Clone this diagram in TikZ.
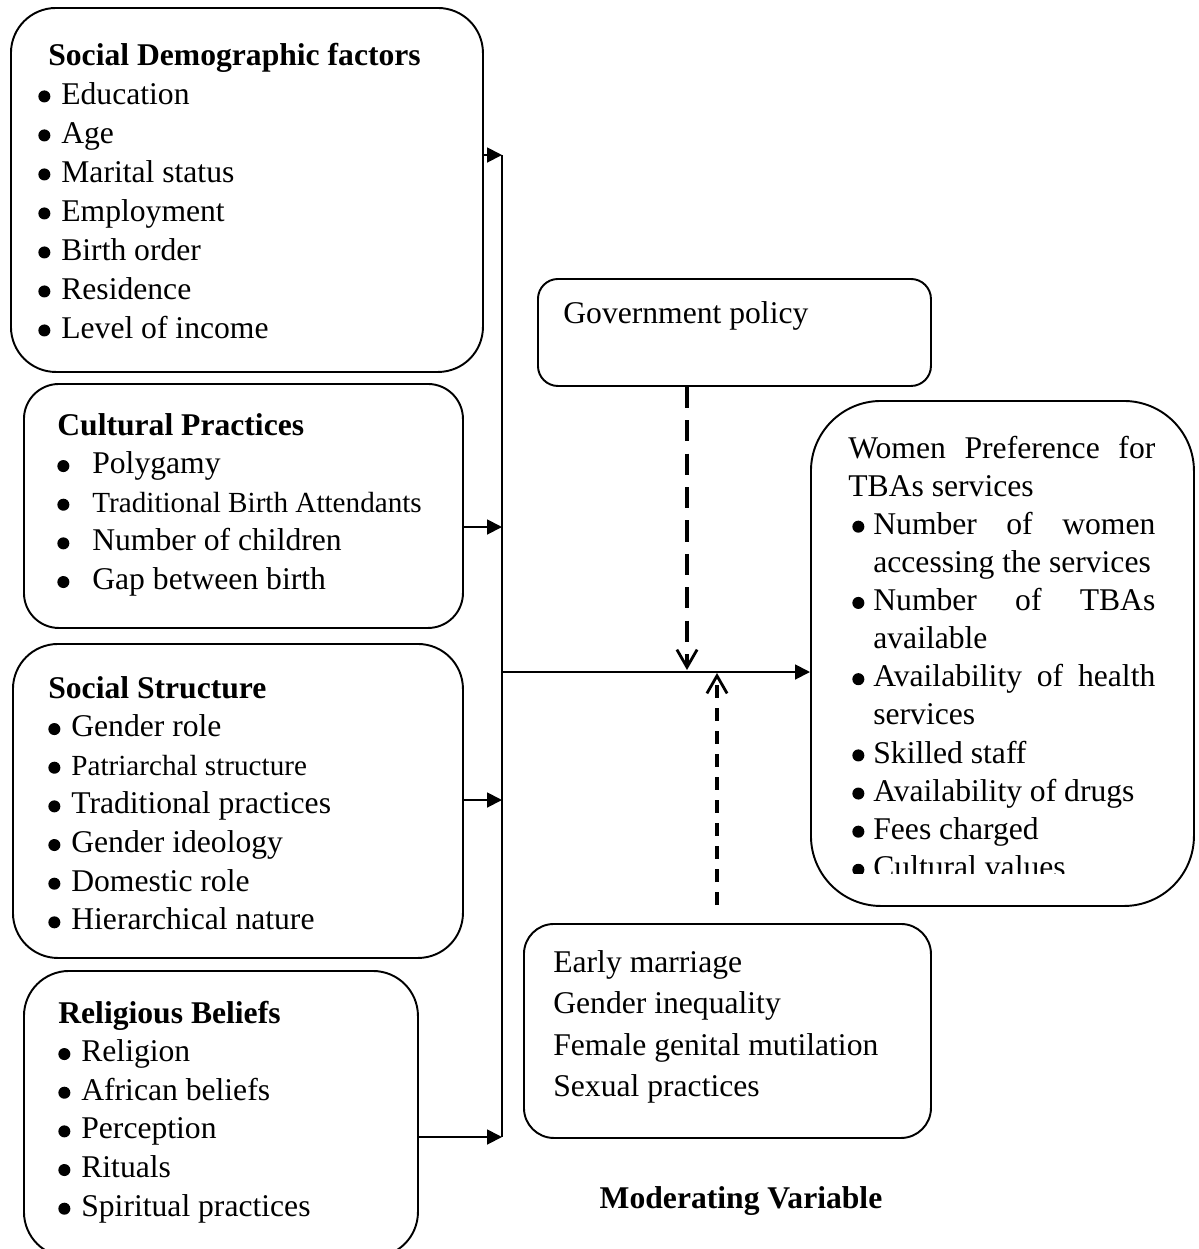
\documentclass[tikz,border=0pt]{standalone}
\usepackage{fontspec}
\setmainfont{Liberation Serif}
\usetikzlibrary{arrows.meta,positioning}
\newlength{\pxl}\setlength{\pxl}{0.02cm}
% bullet item and stretched line
\newcommand{\dotb}{\tikz[baseline=0pt]\fill (0.19em,0.24em) circle (0.19em);}
\newcommand{\itm}[2][23]{\makebox[#1\pxl][l]{\dotb}#2}
\newcommand{\jst}[2]{\makebox[#1\pxl][s]{#2}}

\begin{document}
\begin{tikzpicture}[x=0.02cm, y=-0.02cm,
     % define styles
     card/.style={
         draw, line width=1.1pt,
         rounded corners=#1,
         inner sep=0pt,
         anchor=north west
     },
     card/.default=0.9cm,
     txt/.style={
         inner sep=0pt,
         anchor=base west,
         font=\fontsize{18}{22}\selectfont
     },
     arr/.style={line width=1.1pt, -{Triangle[length=8.5pt,width=8.5pt]}},
     dsh/.style={line width=1.9pt, dash pattern=on #1,
         -{Straight Barb[length=10pt,width=11.5pt,line width=1.6pt]}},
     dsh/.default={12pt off 7pt}
]
\useasboundingbox (0,0) rectangle (1199,1249);

% left boxes
\node[card, minimum width=472\pxl, minimum height=364\pxl] (sd) at (10,7) {};
\node[card=0.7cm, minimum width=439\pxl, minimum height=244\pxl] (cp) at (23,383) {};
\node[card, minimum width=450\pxl, minimum height=314\pxl] (ss) at (12,643) {};
\node[card, minimum width=394\pxl, minimum height=286\pxl] (rb) at (23,970) {};

% right boxes
\node[card=0.4cm, minimum width=393\pxl, minimum height=107\pxl] (gp) at (537,278) {};
\node[card=0.6cm, minimum width=407\pxl, minimum height=214\pxl] (mb) at (523,923) {};
\node[card=1.4cm, minimum width=383\pxl, minimum height=505\pxl] (wp) at (810,400) {};

% texts
\node[txt, font=\fontsize{18}{22.2}\selectfont] (sdt) at (38,65) {\parbox[t]{8cm}{%
\hspace*{10\pxl}\textbf{Social Demographic factors}\\
\itm{Education}\\
\itm{Age}\\
\itm{Marital status}\\
\itm{Employment}\\
\itm{Birth order}\\
\itm{Residence}\\
\itm{Level of income}}};

\node[txt] (cpt) at (57,435) {\parbox[t]{8cm}{%
\textbf{Cultural Practices}\\
\itm[35]{Polygamy}\\
\itm[35]{{\fontsize{16.6}{22}\selectfont Traditional Birth Attendants}}\\
\itm[35]{Number of children}\\
\itm[35]{Gap between birth}}};

\node[txt] (sst) at (48,698) {\parbox[t]{8cm}{%
\textbf{Social Structure}\\
\itm{Gender role}\\
\itm{{\fontsize{16.6}{22}\selectfont Patriarchal structure}}\\
\itm{Traditional practices}\\
\itm{Gender ideology}\\
\itm{Domestic role}\\
\itm{Hierarchical nature}}};

\node[txt] (rbt) at (58,1023) {\parbox[t]{8cm}{%
\textbf{Religious Beliefs}\\
\itm{Religion}\\
\itm{African beliefs}\\
\itm{Perception}\\
\itm{Rituals}\\
\itm{Spiritual practices}}};

\node[txt] (gpt) at (563,323) {Government policy};

\node[txt, font=\fontsize{18}{23.7}\selectfont] (mbt) at (553,972) {\parbox[t]{8cm}{%
Early marriage\\
Gender inequality\\
Female genital mutilation\\
Sexual practices}};

\begin{scope}
\clip (810,400) rectangle (1199,873);
\node[txt, font=\fontsize{18}{21.7}\selectfont] (wpt) at (848,458) {\parbox[t]{6.5cm}{%
\jst{307}{Women Preference for}\\
TBAs services\\
\hspace*{4\pxl}\itm[21]{\jst{282}{Number of women}}\\
\hspace*{25\pxl}accessing the services\\
\hspace*{4\pxl}\itm[21]{\jst{282}{Number of TBAs}}\\
\hspace*{25\pxl}available\\
\hspace*{4\pxl}\itm[21]{\jst{282}{Availability of health}}\\
\hspace*{25\pxl}services\\
\hspace*{4\pxl}\itm[21]{Skilled staff}\\
\hspace*{4\pxl}\itm[21]{Availability of drugs}\\
\hspace*{4\pxl}\itm[21]{Fees charged}\\
\hspace*{4\pxl}\itm[21]{Cultural values}}};
\end{scope}

\node[anchor=base, inner sep=0pt, font=\fontsize{18}{22}\selectfont\bfseries] (mvl) at (741,1208) {Moderating Variable};

% trunk
\coordinate (j1) at (502,155);
\coordinate (j2) at (502,527);
\coordinate (j3) at (502,800);
\coordinate (j4) at (502,1137);
\coordinate (hub) at (502,672);
\draw[line width=1.1pt] (j1) -- (j4);
\draw[arr] (sd.east |- j1) -- (j1);
\draw[arr] (cp.east |- j2) -- (j2);
\draw[arr] (ss.east |- j3) -- (j3);
\draw[arr] (rb.east |- j4) -- (j4);
\draw[arr] (hub) -- (wp.west |- hub);

% moderating arrows
\coordinate (dn) at (687,670);
\coordinate (up) at (717,673);
\draw[dsh] (gp.south -| dn) -- (dn);
\draw[dsh={7.4pt off 5.7pt}] ([yshift=0.36cm]mb.north -| up) -- (up);

\end{tikzpicture}
\end{document}
